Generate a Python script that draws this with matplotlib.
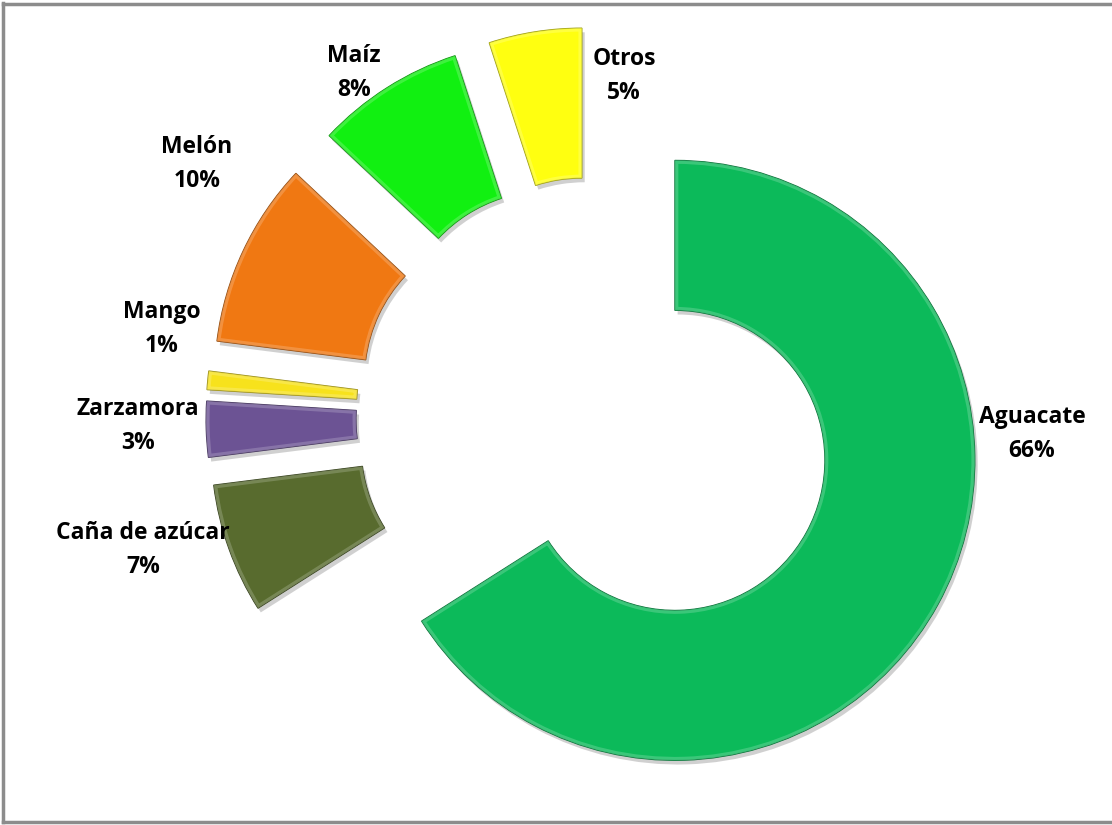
import matplotlib
matplotlib.use("Agg")
import matplotlib.pyplot as plt
import matplotlib.patheffects as pe
from matplotlib.colors import to_rgb

# Share of each crop (percent), clockwise from 12 o'clock
crops = ["Aguacate", "Caña de azúcar", "Zarzamora", "Mango", "Melón", "Maíz", "Otros"]
shares = [66, 7, 3, 1, 10, 8, 5]
colors = ["#0cba5a", "#586b2e", "#6c5394", "#f7e21c", "#f07812", "#11f011", "#ffff10"]

# label anchor points (pixel coords, top-left origin) for name line / value line
label_x = [1032, 143, 138, 162, 197, 354, 624]
label_y = [423, 539, 415, 318, 153, 62, 65]

W, H = 1112, 825
R = 300
plt.rcParams["font.family"] = ["Open Sans", "DejaVu Sans"]

fig = plt.figure(figsize=(W / 100, H / 100), dpi=100)
ax = fig.add_axes([0, 0, 1, 1])


def shade(c, f):
    r, g, b = to_rgb(c)
    if f < 1:
        return (r * f, g * f, b * f)
    return (r + (1 - r) * (f - 1), g + (1 - g) * (f - 1), b + (1 - b) * (f - 1))


# explode is in data units here, so scale it by the radius
wedges, _ = ax.pie(
    shares,
    colors=colors,
    startangle=90,
    counterclock=False,
    radius=R,
    center=(596, H - 417),
    explode=[0.3 * R] * len(shares),
    wedgeprops=dict(width=R / 2, linewidth=0.8),
    frame=True,
)
ax.set_xlim(0, W)
ax.set_ylim(0, H)
ax.set_aspect("equal")
ax.axis("off")

for w, c in zip(wedges, colors):
    w.set_edgecolor(shade(c, 0.6))
    w.set_path_effects([
        pe.SimplePatchShadow(offset=(2, -3), shadow_rgbFace="#666666", alpha=0.3),
        pe.Normal(),
    ])
    # soft bevel highlight along the inside of each slice edge
    hl = matplotlib.patches.Wedge(
        w.center, w.r, w.theta1, w.theta2, width=w.width,
        facecolor="none", edgecolor=shade(c, 1.35), linewidth=5, alpha=0.55,
    )
    ax.add_patch(hl)
    hl.set_clip_path(w)

for name, val, x, y in zip(crops, shares, label_x, label_y):
    ax.text(x, H - y, name, ha="center", va="baseline",
            fontsize=16.5, fontweight="bold", color="black")
    ax.text(x, H - y - 34, f"{val}%", ha="center", va="baseline",
            fontsize=16.5, fontweight="bold", color="black")

# chart frame
frame_kw = dict(color="#8c8c8c", linewidth=2.5, transform=fig.transFigure)
fig.add_artist(plt.Line2D([3 / W, 3 / W], [3 / H, 1 - 3 / H], **frame_kw))
fig.add_artist(plt.Line2D([3 / W, 1], [1 - 4 / H, 1 - 4 / H], **frame_kw))
fig.add_artist(plt.Line2D([3 / W, 1], [3 / H, 3 / H], **frame_kw))

fig.savefig("out.png", dpi=100, facecolor="white")
